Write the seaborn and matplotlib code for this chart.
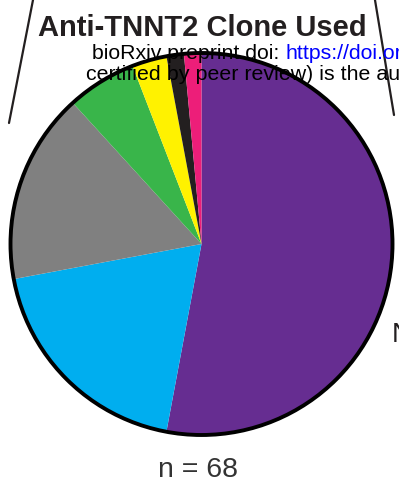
import matplotlib
matplotlib.use("Agg")
import matplotlib.pyplot as plt
from matplotlib.lines import Line2D
from matplotlib.patches import Circle
import seaborn as sns

# Study counts per anti-TNNT2 clone (n = 68)
clones = ["Clone 1", "Clone 2", "Clone 3", "Clone 4", "Clone 5", "Clone 6", "Clone 7"]
counts = [36, 13, 11, 4, 2, 1, 1]
colors = ["#662D91", "#00AEEF", "#808080", "#39B54A", "#FFF200", "#231F20", "#ED1E79"]

title = "Anti-TNNT2 Clone Used"
footer = "n = {}".format(sum(counts))

sns.set_theme(style="white")
plt.rcParams["font.family"] = ["Liberation Sans", "DejaVu Sans"]

W, H = 399, 501
fig = plt.figure(figsize=(W / 100, H / 100), dpi=100)
fig.patch.set_facecolor("white")


def fx(x):
    return x / W


def fy(y):
    return 1 - y / H


# frame strokes crossing the top of the panel
for (x0, y0), (x1, y1) in [((33, 0), (9, 123)), ((375, 0), (394, 115))]:
    fig.add_artist(Line2D([fx(x0), fx(x1)], [fy(y0), fy(y1)],
                          transform=fig.transFigure, color="#231F20", lw=1.6))

# pie axes: centre (201.5, 244), radius 191 px
cx, cy, r = 201.5, 244, 191
ax = fig.add_axes([fx(cx - r), fy(cy + r), 2 * r / W, 2 * r / H])
ax.pie(counts, colors=colors, startangle=90, counterclock=False, radius=1,
       wedgeprops=dict(linewidth=0))
ax.add_patch(Circle((0, 0), 1, fill=False, edgecolor="black", lw=2.8,
                    zorder=5, clip_on=False))
ax.set_xlim(-1, 1)
ax.set_ylim(-1, 1)
ax.set_axis_off()

fig.text(fx(202), fy(36), title, ha="center", va="baseline",
         fontsize=21, fontweight="bold", color="#231F20")

# preprint banner overlaid on the top of the pie
t1 = fig.text(fx(92), fy(59), "bioRxiv preprint doi: ", ha="left", va="baseline",
              fontsize=15.3, color="black", zorder=10)
fig.canvas.draw()
bb = t1.get_window_extent()
fig.text(bb.x1 / W, fy(59), "https://doi.org", ha="left", va="baseline",
         fontsize=15.3, color="#0000FF", zorder=10)
fig.text(fx(86), fy(80), "certified by peer review) is the author", ha="left",
         va="baseline", fontsize=15.4, color="black", zorder=10)

fig.text(fx(391.5), fy(342), "N", ha="left", va="baseline", fontsize=20, color="#231F20")

fig.text(fx(198), fy(477), footer, ha="center", va="baseline",
         fontsize=20.5, color="#333333")

fig.savefig("out.png", dpi=100, facecolor="white")
